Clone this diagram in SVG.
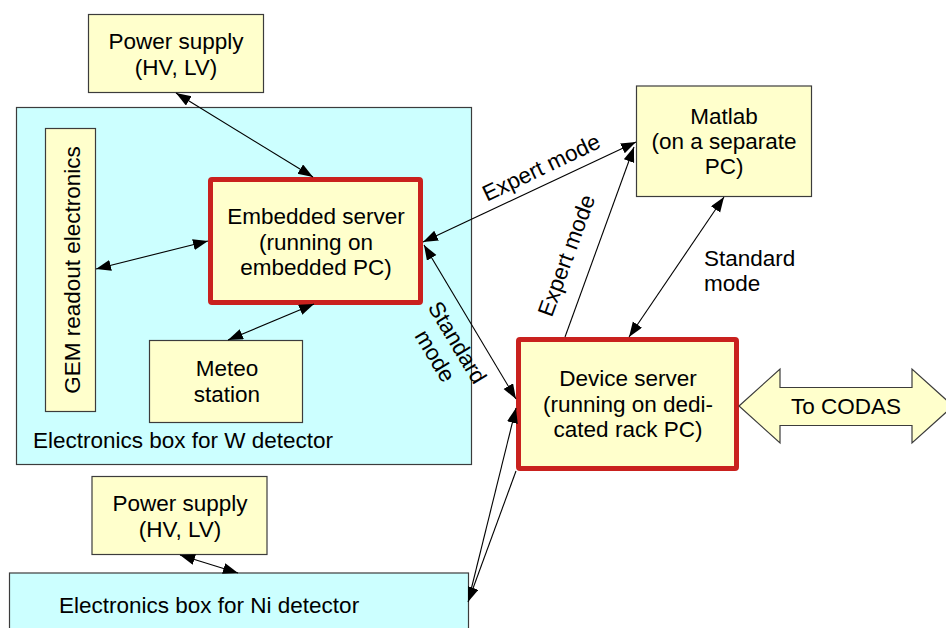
<svg xmlns="http://www.w3.org/2000/svg" width="946" height="628" viewBox="0 0 946 628">
<defs>
<style>
text{font-family:"Liberation Sans",Arial,sans-serif;font-size:22.5px;fill:#000}
.c{text-anchor:middle}
.box{fill:#ffffcc;stroke:#3c3c3c;stroke-width:1.2}
.cont{fill:#ccffff;stroke:#3c3c3c;stroke-width:1.2}
.srv{fill:#ffffcc;stroke:#c9211e;stroke-width:5;stroke-linejoin:round}
.ln{stroke:#000;stroke-width:1.1;fill:none}
.bi{marker-start:url(#ah);marker-end:url(#ah)}
.un{marker-end:url(#ah)}
</style>
<marker id="ah" markerUnits="userSpaceOnUse" markerWidth="16" markerHeight="12" refX="15" refY="5.5" orient="auto-start-reverse">
<path d="M0,0 L15,5.5 L0,11 z" fill="#000"/>
</marker>
</defs>
<rect width="946" height="628" fill="#ffffff"/>

<g id="boxW">
<rect class="cont" x="16.5" y="107.5" width="455" height="357"/>
<text x="33" y="448">Electronics box for W detector</text>
</g>
<g id="boxNi">
<rect class="cont" x="9.5" y="573" width="459" height="70"/>
<text x="59" y="613">Electronics box for Ni detector</text>
</g>
<g id="psTop">
<rect class="box" x="88.5" y="14.5" width="175" height="78"/>
<text class="c" x="176" y="49">Power supply</text>
<text class="c" x="176" y="75">(HV, LV)</text>
</g>
<g id="psBottom">
<rect class="box" x="92" y="476.5" width="175" height="78"/>
<text class="c" x="180" y="511">Power supply</text>
<text class="c" x="180" y="537">(HV, LV)</text>
</g>
<g id="gem">
<rect class="box" x="45.5" y="128.5" width="50" height="283"/>
<text class="c" transform="translate(80,270) rotate(-90)" x="0" y="0">GEM readout electronics</text>
</g>
<g id="meteo">
<rect class="box" x="149.5" y="340.5" width="153" height="82"/>
<text class="c" x="227" y="376">Meteo</text>
<text class="c" x="227" y="402">station</text>
</g>
<g id="embedded">
<rect class="srv" x="210.5" y="179.5" width="210" height="123" rx="1.5"/>
<text class="c" x="316" y="224">Embedded server</text>
<text class="c" x="316" y="250">(running on</text>
<text class="c" x="316" y="275">embedded PC)</text>
</g>
<g id="matlab">
<rect class="box" x="636.5" y="86" width="175" height="110.5"/>
<text class="c" x="724" y="124">Matlab</text>
<text class="c" x="724" y="149">(on a separate</text>
<text class="c" x="724" y="174">PC)</text>
</g>
<g id="device">
<rect class="srv" x="518.5" y="339.5" width="218" height="129" rx="1.5"/>
<text class="c" x="628" y="386">Device server</text>
<text class="c" x="628" y="412">(running on dedi-</text>
<text class="c" x="628" y="437">cated rack PC)</text>
</g>
<g id="codas">
<polygon class="box" points="739,406 780,369 780,387.5 912,387.5 912,369 953,406 912,443 912,425.5 780,425.5 780,443"/>
<text class="c" x="846" y="414">To CODAS</text>
</g>

<g id="connectors">
<line class="ln bi" x1="176" y1="93" x2="313" y2="177"/>
<line class="ln bi" x1="96" y1="269" x2="208" y2="241"/>
<line class="ln bi" x1="228" y1="340" x2="314" y2="304"/>
<line class="ln bi" x1="180" y1="555" x2="238" y2="573"/>
<line class="ln bi" x1="423" y1="242" x2="636" y2="142"/>
<line class="ln bi" x1="424" y1="245" x2="516" y2="399"/>
<line class="ln un" x1="565" y1="337" x2="634" y2="147"/>
<line class="ln bi" x1="724" y1="197" x2="629" y2="337"/>
<line class="ln un" x1="471" y1="590" x2="516" y2="408"/>
<line class="ln un" x1="516" y1="471" x2="468" y2="602"/>
<text class="c" transform="translate(542,169) rotate(-25.5)" x="0" y="6">Expert mode</text>
<text class="c" transform="translate(568,256) rotate(-70)" x="0" y="6">Expert mode</text>
<text class="c" transform="translate(446.5,349) rotate(59)"><tspan x="0" y="-5">Standard</tspan><tspan x="0" y="21">mode</tspan></text>
<text x="704" y="266">Standard</text>
<text x="704" y="291">mode</text>
</g>
</svg>
